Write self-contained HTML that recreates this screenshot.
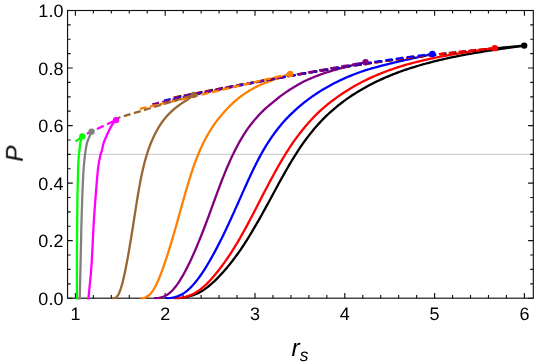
<!DOCTYPE html>
<html><head><meta charset="utf-8"><title>P vs r_s</title>
<style>
html,body{margin:0;padding:0;background:#fff;}
body{width:534px;height:364px;overflow:hidden;}
svg{display:block;}
text{font-family:"Liberation Sans",Arial,Helvetica,sans-serif;fill:#000;text-rendering:geometricPrecision;}
.tk{font-size:18px;}
.lb{font-size:24.5px;font-style:italic;}
.sub{font-size:17.5px;font-style:italic;}
</style></head>
<body>
<svg width="534" height="364" viewBox="0 0 534 364">
<rect x="0" y="0" width="534" height="364" fill="#ffffff"/>
<defs><clipPath id="cp"><rect x="67.55" y="10.50" width="465.75" height="289.10"/></clipPath></defs>
<line x1="67.55" y1="154.35" x2="533.30" y2="154.35" stroke="#c6c6c6" stroke-width="1"/>
<g stroke="#111111" stroke-width="1.15" fill="none">
<rect x="67.55" y="10.50" width="465.75" height="287.70"/>
<path d="M75.40 298.20V293.00M75.40 10.50V15.70M93.36 298.20V295.10M93.36 10.50V13.60M111.32 298.20V295.10M111.32 10.50V13.60M129.28 298.20V295.10M129.28 10.50V13.60M147.24 298.20V295.10M147.24 10.50V13.60M165.20 298.20V293.00M165.20 10.50V15.70M183.16 298.20V295.10M183.16 10.50V13.60M201.12 298.20V295.10M201.12 10.50V13.60M219.08 298.20V295.10M219.08 10.50V13.60M237.04 298.20V295.10M237.04 10.50V13.60M255.00 298.20V293.00M255.00 10.50V15.70M272.96 298.20V295.10M272.96 10.50V13.60M290.92 298.20V295.10M290.92 10.50V13.60M308.88 298.20V295.10M308.88 10.50V13.60M326.84 298.20V295.10M326.84 10.50V13.60M344.80 298.20V293.00M344.80 10.50V15.70M362.76 298.20V295.10M362.76 10.50V13.60M380.72 298.20V295.10M380.72 10.50V13.60M398.68 298.20V295.10M398.68 10.50V13.60M416.64 298.20V295.10M416.64 10.50V13.60M434.60 298.20V293.00M434.60 10.50V15.70M452.56 298.20V295.10M452.56 10.50V13.60M470.52 298.20V295.10M470.52 10.50V13.60M488.48 298.20V295.10M488.48 10.50V13.60M506.44 298.20V295.10M506.44 10.50V13.60M524.40 298.20V293.00M524.40 10.50V15.70M67.55 298.20H72.75M533.30 298.20H528.10M67.55 283.81H70.65M533.30 283.81H530.20M67.55 269.43H70.65M533.30 269.43H530.20M67.55 255.04H70.65M533.30 255.04H530.20M67.55 240.66H72.75M533.30 240.66H528.10M67.55 226.27H70.65M533.30 226.27H530.20M67.55 211.89H70.65M533.30 211.89H530.20M67.55 197.50H70.65M533.30 197.50H530.20M67.55 183.12H72.75M533.30 183.12H528.10M67.55 168.73H70.65M533.30 168.73H530.20M67.55 154.35H70.65M533.30 154.35H530.20M67.55 139.96H70.65M533.30 139.96H530.20M67.55 125.58H72.75M533.30 125.58H528.10M67.55 111.19H70.65M533.30 111.19H530.20M67.55 96.81H70.65M533.30 96.81H530.20M67.55 82.43H70.65M533.30 82.43H530.20M67.55 68.04H72.75M533.30 68.04H528.10M67.55 53.65H70.65M533.30 53.65H530.20M67.55 39.27H70.65M533.30 39.27H530.20M67.55 24.88H70.65M533.30 24.88H530.20M67.55 10.50H72.75M533.30 10.50H528.10"/>
</g>
<g clip-path="url(#cp)" fill="none" stroke-linecap="butt" stroke-linejoin="round">
<path d="M174.21 298.20 L175.71 298.20 L177.46 298.17 L179.21 298.08 L180.96 297.93 L182.71 297.71 L184.46 297.44 L186.22 297.10 L187.97 296.71 L189.72 296.25 L191.47 295.73 L193.22 295.15 L194.97 294.50 L196.72 293.80 L198.47 292.96 L200.22 292.02 L201.98 290.99 L203.73 289.87 L205.48 288.66 L207.23 287.36 L208.98 285.98 L210.73 284.50 L212.48 282.95 L214.23 281.31 L215.99 279.59 L217.74 277.83 L219.49 276.01 L221.24 274.14 L222.99 272.22 L224.74 270.24 L226.49 268.21 L228.24 266.12 L230.00 263.97 L231.75 261.77 L233.50 259.51 L235.25 257.18 L237.00 254.80 L238.75 252.35 L240.50 249.83 L242.25 247.25 L244.01 244.59 L245.76 241.87 L247.51 239.08 L249.26 236.24 L251.01 233.35 L252.76 230.42 L254.51 227.45 L256.26 224.44 L258.01 221.39 L259.77 218.31 L261.52 215.19 L263.27 212.04 L265.02 208.86 L266.77 205.66 L268.52 202.44 L270.27 199.21 L272.02 195.97 L273.78 192.73 L275.53 189.50 L277.28 186.28 L279.03 183.07 L280.78 179.88 L282.53 176.72 L284.28 173.59 L286.03 170.50 L287.79 167.45 L289.54 164.45 L291.29 161.50 L293.04 158.61 L294.79 155.78 L296.54 153.03 L298.29 150.34 L300.04 147.72 L301.80 145.17 L303.55 142.69 L305.30 140.27 L307.05 137.91 L308.80 135.61 L310.55 133.38 L312.30 131.21 L314.05 129.10 L315.81 127.05 L317.56 125.05 L319.31 123.12 L321.06 121.24 L322.81 119.41 L324.56 117.64 L326.31 115.92 L328.06 114.26 L329.81 112.64 L331.57 111.07 L333.32 109.54 L335.07 108.06 L336.82 106.60 L338.57 105.19 L340.32 103.81 L342.07 102.47 L343.82 101.16 L345.58 99.88 L347.33 98.63 L349.08 97.42 L350.83 96.23 L352.58 95.08 L354.33 93.95 L356.08 92.85 L357.83 91.76 L359.59 90.71 L361.34 89.67 L363.09 88.66 L364.84 87.67 L366.59 86.70 L368.34 85.75 L370.09 84.82 L371.84 83.91 L373.60 83.02 L375.35 82.15 L377.10 81.30 L378.85 80.47 L380.60 79.66 L382.35 78.86 L384.10 78.08 L385.85 77.32 L387.61 76.57 L389.36 75.84 L391.11 75.12 L392.86 74.42 L394.61 73.74 L396.36 73.07 L398.11 72.41 L399.86 71.77 L401.61 71.14 L403.37 70.52 L405.12 69.92 L406.87 69.32 L408.62 68.74 L410.37 68.17 L412.12 67.62 L413.87 67.07 L415.62 66.53 L417.38 66.00 L419.13 65.49 L420.88 64.98 L422.63 64.48 L424.38 63.99 L426.13 63.51 L427.88 63.03 L429.63 62.57 L431.39 62.12 L433.14 61.67 L434.89 61.23 L436.64 60.80 L438.39 60.37 L440.14 59.96 L441.89 59.55 L443.64 59.14 L445.40 58.75 L447.15 58.36 L448.90 57.98 L450.65 57.60 L452.40 57.23 L454.15 56.87 L455.90 56.51 L457.65 56.16 L459.40 55.81 L461.16 55.47 L462.91 55.14 L464.66 54.81 L466.41 54.48 L468.16 54.16 L469.91 53.85 L471.66 53.53 L473.41 53.23 L475.17 52.92 L476.92 52.63 L478.67 52.33 L480.42 52.04 L482.17 51.75 L483.92 51.47 L485.67 51.19 L487.42 50.91 L489.18 50.64 L490.93 50.36 L492.68 50.09 L494.43 49.83 L496.18 49.56 L497.93 49.30 L499.68 49.04 L501.43 48.78 L503.19 48.53 L504.94 48.27 L506.69 48.02 L508.44 47.77 L510.19 47.52 L511.94 47.27 L513.69 47.02 L515.44 46.77 L517.20 46.52 L518.95 46.27 L520.70 46.03 L522.45 45.78 L524.20 45.60" stroke="#000000" stroke-width="2.3"/>
<path d="M173.36 298.20 L174.86 298.20 L176.46 298.17 L178.07 298.07 L179.68 297.91 L181.29 297.68 L182.89 297.38 L184.50 297.02 L186.11 296.60 L187.72 296.11 L189.33 295.56 L190.93 294.93 L192.54 294.25 L194.15 293.48 L195.76 292.56 L197.36 291.55 L198.97 290.45 L200.58 289.26 L202.19 287.97 L203.80 286.59 L205.40 285.12 L207.01 283.57 L208.62 281.93 L210.23 280.21 L211.83 278.43 L213.44 276.59 L215.05 274.69 L216.66 272.74 L218.27 270.73 L219.87 268.66 L221.48 266.54 L223.09 264.36 L224.70 262.13 L226.30 259.85 L227.91 257.51 L229.52 255.11 L231.13 252.66 L232.74 250.16 L234.34 247.59 L235.95 244.97 L237.56 242.29 L239.17 239.55 L240.77 236.76 L242.38 233.91 L243.99 231.02 L245.60 228.09 L247.20 225.12 L248.81 222.11 L250.42 219.07 L252.03 216.00 L253.64 212.91 L255.24 209.79 L256.85 206.67 L258.46 203.53 L260.07 200.39 L261.67 197.27 L263.28 194.15 L264.89 191.05 L266.50 187.98 L268.11 184.92 L269.71 181.90 L271.32 178.90 L272.93 175.93 L274.54 173.00 L276.14 170.10 L277.75 167.25 L279.36 164.43 L280.97 161.66 L282.58 158.93 L284.18 156.25 L285.79 153.63 L287.40 151.06 L289.01 148.56 L290.61 146.12 L292.22 143.75 L293.83 141.43 L295.44 139.18 L297.05 136.98 L298.65 134.85 L300.26 132.77 L301.87 130.74 L303.48 128.76 L305.08 126.82 L306.69 124.92 L308.30 123.07 L309.91 121.27 L311.52 119.51 L313.12 117.80 L314.73 116.13 L316.34 114.51 L317.95 112.94 L319.55 111.41 L321.16 109.93 L322.77 108.50 L324.38 107.11 L325.99 105.77 L327.59 104.46 L329.20 103.18 L330.81 101.92 L332.42 100.69 L334.02 99.49 L335.63 98.31 L337.24 97.15 L338.85 96.01 L340.46 94.90 L342.06 93.81 L343.67 92.74 L345.28 91.69 L346.89 90.67 L348.49 89.66 L350.10 88.68 L351.71 87.72 L353.32 86.77 L354.92 85.85 L356.53 84.95 L358.14 84.06 L359.75 83.20 L361.36 82.35 L362.96 81.52 L364.57 80.71 L366.18 79.91 L367.79 79.14 L369.39 78.38 L371.00 77.63 L372.61 76.91 L374.22 76.19 L375.83 75.50 L377.43 74.82 L379.04 74.15 L380.65 73.50 L382.26 72.86 L383.86 72.23 L385.47 71.62 L387.08 71.02 L388.69 70.43 L390.30 69.86 L391.90 69.30 L393.51 68.74 L395.12 68.20 L396.73 67.68 L398.33 67.16 L399.94 66.65 L401.55 66.15 L403.16 65.66 L404.77 65.18 L406.37 64.71 L407.98 64.25 L409.59 63.80 L411.20 63.36 L412.80 62.93 L414.41 62.51 L416.02 62.09 L417.63 61.68 L419.24 61.28 L420.84 60.89 L422.45 60.51 L424.06 60.13 L425.67 59.76 L427.27 59.40 L428.88 59.04 L430.49 58.69 L432.10 58.35 L433.71 58.01 L435.31 57.68 L436.92 57.36 L438.53 57.04 L440.14 56.73 L441.74 56.42 L443.35 56.11 L444.96 55.82 L446.57 55.52 L448.17 55.23 L449.78 54.95 L451.39 54.67 L453.00 54.39 L454.61 54.12 L456.21 53.85 L457.82 53.58 L459.43 53.32 L461.04 53.06 L462.64 52.81 L464.25 52.56 L465.86 52.31 L467.47 52.06 L469.08 51.81 L470.68 51.57 L472.29 51.33 L473.90 51.09 L475.51 50.85 L477.11 50.62 L478.72 50.38 L480.33 50.15 L481.94 49.92 L483.55 49.69 L485.15 49.46 L486.76 49.23 L488.37 49.00 L489.98 48.77 L491.58 48.54 L493.19 48.31 L494.80 48.15" stroke="#ff0000" stroke-width="2.3"/>
<path d="M165.46 298.20 L166.96 298.20 L168.29 298.17 L169.63 298.08 L170.96 297.92 L172.30 297.70 L173.63 297.42 L174.96 297.08 L176.30 296.68 L177.63 296.21 L178.97 295.69 L180.30 295.10 L181.63 294.44 L182.97 293.72 L184.30 292.85 L185.64 291.89 L186.97 290.85 L188.30 289.72 L189.64 288.49 L190.97 287.18 L192.30 285.78 L193.64 284.30 L194.97 282.74 L196.31 281.10 L197.64 279.38 L198.97 277.60 L200.31 275.74 L201.64 273.81 L202.98 271.82 L204.31 269.77 L205.64 267.65 L206.98 265.48 L208.31 263.25 L209.64 260.98 L210.98 258.65 L212.31 256.27 L213.65 253.85 L214.98 251.38 L216.31 248.86 L217.65 246.31 L218.98 243.71 L220.32 241.07 L221.65 238.40 L222.98 235.69 L224.32 232.94 L225.65 230.16 L226.98 227.35 L228.32 224.51 L229.65 221.64 L230.99 218.74 L232.32 215.81 L233.65 212.86 L234.99 209.89 L236.32 206.90 L237.66 203.91 L238.99 200.90 L240.32 197.89 L241.66 194.88 L242.99 191.88 L244.33 188.90 L245.66 185.92 L246.99 182.97 L248.33 180.05 L249.66 177.16 L250.99 174.30 L252.33 171.48 L253.66 168.71 L255.00 165.98 L256.33 163.31 L257.66 160.70 L259.00 158.14 L260.33 155.66 L261.67 153.24 L263.00 150.89 L264.33 148.61 L265.67 146.39 L267.00 144.23 L268.33 142.13 L269.67 140.09 L271.00 138.10 L272.34 136.17 L273.67 134.30 L275.00 132.48 L276.34 130.70 L277.67 128.98 L279.01 127.30 L280.34 125.67 L281.67 124.09 L283.01 122.54 L284.34 121.04 L285.67 119.58 L287.01 118.15 L288.34 116.77 L289.68 115.41 L291.01 114.09 L292.34 112.80 L293.68 111.55 L295.01 110.32 L296.35 109.12 L297.68 107.94 L299.01 106.79 L300.35 105.66 L301.68 104.56 L303.02 103.47 L304.35 102.40 L305.68 101.36 L307.02 100.34 L308.35 99.33 L309.68 98.35 L311.02 97.38 L312.35 96.43 L313.69 95.50 L315.02 94.59 L316.35 93.70 L317.69 92.82 L319.02 91.96 L320.36 91.12 L321.69 90.29 L323.02 89.48 L324.36 88.68 L325.69 87.90 L327.02 87.14 L328.36 86.39 L329.69 85.65 L331.03 84.93 L332.36 84.22 L333.69 83.52 L335.03 82.84 L336.36 82.17 L337.70 81.52 L339.03 80.87 L340.36 80.24 L341.70 79.62 L343.03 79.01 L344.36 78.41 L345.70 77.82 L347.03 77.24 L348.37 76.67 L349.70 76.12 L351.03 75.57 L352.37 75.03 L353.70 74.50 L355.04 73.98 L356.37 73.47 L357.70 72.97 L359.04 72.47 L360.37 71.98 L361.71 71.51 L363.04 71.06 L364.37 70.62 L365.71 70.19 L367.04 69.78 L368.37 69.38 L369.71 68.99 L371.04 68.61 L372.38 68.23 L373.71 67.86 L375.04 67.50 L376.38 67.14 L377.71 66.78 L379.05 66.43 L380.38 66.07 L381.71 65.72 L383.05 65.37 L384.38 65.03 L385.71 64.69 L387.05 64.36 L388.38 64.04 L389.72 63.71 L391.05 63.39 L392.38 63.07 L393.72 62.75 L395.05 62.44 L396.39 62.12 L397.72 61.80 L399.05 61.49 L400.39 61.18 L401.72 60.87 L403.05 60.56 L404.39 60.25 L405.72 59.95 L407.06 59.65 L408.39 59.35 L409.72 59.05 L411.06 58.76 L412.39 58.47 L413.73 58.17 L415.06 57.88 L416.39 57.58 L417.73 57.29 L419.06 56.99 L420.40 56.70 L421.73 56.40 L423.06 56.11 L424.40 55.81 L425.73 55.51 L427.06 55.21 L428.40 54.89 L429.73 54.58 L431.07 54.26 L432.40 54.00" stroke="#0000ff" stroke-width="2.3"/>
<path d="M154.16 298.20 L155.66 298.20 L156.71 298.17 L157.77 298.08 L158.82 297.94 L159.88 297.73 L160.93 297.47 L161.99 297.14 L163.04 296.76 L164.10 296.32 L165.15 295.82 L166.21 295.27 L167.26 294.65 L168.32 293.97 L169.37 293.15 L170.43 292.25 L171.48 291.26 L172.54 290.19 L173.59 289.04 L174.65 287.80 L175.70 286.48 L176.76 285.07 L177.81 283.60 L178.87 282.04 L179.92 280.42 L180.98 278.72 L182.03 276.96 L183.09 275.13 L184.14 273.24 L185.20 271.28 L186.25 269.27 L187.31 267.21 L188.36 265.09 L189.42 262.92 L190.47 260.70 L191.53 258.43 L192.58 256.12 L193.64 253.76 L194.69 251.36 L195.75 248.92 L196.80 246.44 L197.86 243.91 L198.91 241.35 L199.97 238.76 L201.02 236.13 L202.08 233.46 L203.13 230.77 L204.19 228.04 L205.24 225.28 L206.30 222.50 L207.35 219.68 L208.41 216.85 L209.46 213.99 L210.52 211.11 L211.57 208.21 L212.63 205.31 L213.68 202.40 L214.74 199.49 L215.79 196.59 L216.85 193.71 L217.90 190.86 L218.96 188.04 L220.01 185.25 L221.07 182.49 L222.12 179.77 L223.18 177.09 L224.23 174.45 L225.29 171.85 L226.34 169.31 L227.40 166.81 L228.45 164.36 L229.51 161.97 L230.56 159.64 L231.62 157.35 L232.67 155.12 L233.73 152.93 L234.78 150.80 L235.84 148.72 L236.89 146.70 L237.95 144.73 L239.00 142.80 L240.06 140.93 L241.11 139.11 L242.17 137.34 L243.22 135.61 L244.28 133.94 L245.33 132.31 L246.39 130.73 L247.44 129.19 L248.50 127.70 L249.55 126.26 L250.61 124.85 L251.66 123.49 L252.72 122.17 L253.77 120.88 L254.83 119.62 L255.88 118.40 L256.94 117.20 L257.99 116.04 L259.05 114.90 L260.10 113.79 L261.16 112.70 L262.21 111.64 L263.27 110.60 L264.32 109.58 L265.38 108.60 L266.43 107.66 L267.49 106.75 L268.54 105.87 L269.60 105.00 L270.65 104.14 L271.71 103.27 L272.76 102.40 L273.82 101.52 L274.87 100.65 L275.93 99.79 L276.98 98.94 L278.04 98.10 L279.09 97.28 L280.15 96.46 L281.20 95.66 L282.26 94.88 L283.31 94.11 L284.37 93.36 L285.42 92.63 L286.48 91.90 L287.53 91.19 L288.59 90.50 L289.64 89.81 L290.70 89.13 L291.75 88.47 L292.81 87.82 L293.86 87.18 L294.92 86.55 L295.97 85.93 L297.03 85.31 L298.08 84.69 L299.14 84.09 L300.19 83.49 L301.25 82.90 L302.30 82.33 L303.36 81.77 L304.41 81.23 L305.47 80.72 L306.52 80.22 L307.58 79.75 L308.63 79.29 L309.69 78.83 L310.74 78.38 L311.80 77.94 L312.85 77.50 L313.91 77.07 L314.96 76.65 L316.02 76.24 L317.07 75.84 L318.13 75.44 L319.18 75.05 L320.24 74.66 L321.29 74.28 L322.35 73.91 L323.40 73.54 L324.46 73.18 L325.51 72.83 L326.57 72.48 L327.62 72.14 L328.68 71.80 L329.73 71.47 L330.79 71.14 L331.84 70.82 L332.90 70.50 L333.95 70.19 L335.01 69.88 L336.06 69.58 L337.12 69.28 L338.17 68.98 L339.23 68.69 L340.28 68.40 L341.34 68.12 L342.39 67.84 L343.45 67.56 L344.50 67.29 L345.56 67.02 L346.61 66.75 L347.67 66.49 L348.72 66.22 L349.78 65.96 L350.83 65.71 L351.89 65.45 L352.94 65.20 L354.00 64.94 L355.05 64.69 L356.11 64.44 L357.16 64.20 L358.22 63.95 L359.27 63.70 L360.33 63.46 L361.38 63.21 L362.44 62.97 L363.49 62.72 L364.55 62.48 L365.60 62.30" stroke="#800080" stroke-width="2.3"/>
<path d="M140.50 298.20 L142.00 298.20 L142.74 298.17 L143.49 298.07 L144.23 297.90 L144.98 297.67 L145.72 297.37 L146.47 297.00 L147.21 296.57 L147.96 296.07 L148.70 295.51 L149.45 294.88 L150.19 294.18 L150.94 293.34 L151.68 292.40 L152.43 291.37 L153.17 290.24 L153.91 289.03 L154.66 287.73 L155.40 286.34 L156.15 284.87 L156.89 283.33 L157.64 281.70 L158.38 280.01 L159.13 278.25 L159.87 276.42 L160.62 274.54 L161.36 272.59 L162.11 270.59 L162.85 268.54 L163.60 266.44 L164.34 264.30 L165.09 262.11 L165.83 259.89 L166.58 257.62 L167.32 255.32 L168.06 252.98 L168.81 250.61 L169.55 248.21 L170.30 245.78 L171.04 243.32 L171.79 240.83 L172.53 238.32 L173.28 235.79 L174.02 233.23 L174.77 230.66 L175.51 228.06 L176.26 225.45 L177.00 222.82 L177.75 220.17 L178.49 217.52 L179.24 214.85 L179.98 212.18 L180.72 209.50 L181.47 206.83 L182.21 204.16 L182.96 201.51 L183.70 198.86 L184.45 196.24 L185.19 193.63 L185.94 191.04 L186.68 188.49 L187.43 185.96 L188.17 183.46 L188.92 181.01 L189.66 178.59 L190.41 176.21 L191.15 173.88 L191.90 171.60 L192.64 169.37 L193.39 167.20 L194.13 165.09 L194.87 163.03 L195.62 161.02 L196.36 159.06 L197.11 157.16 L197.85 155.30 L198.60 153.49 L199.34 151.73 L200.09 150.01 L200.83 148.33 L201.58 146.70 L202.32 145.12 L203.07 143.57 L203.81 142.06 L204.56 140.59 L205.30 139.16 L206.05 137.76 L206.79 136.40 L207.54 135.07 L208.28 133.78 L209.02 132.51 L209.77 131.27 L210.51 130.07 L211.26 128.89 L212.00 127.73 L212.75 126.60 L213.49 125.50 L214.24 124.41 L214.98 123.35 L215.73 122.32 L216.47 121.32 L217.22 120.35 L217.96 119.40 L218.71 118.46 L219.45 117.55 L220.20 116.66 L220.94 115.77 L221.68 114.90 L222.43 114.03 L223.17 113.18 L223.92 112.32 L224.66 111.47 L225.41 110.63 L226.15 109.81 L226.90 109.00 L227.64 108.21 L228.39 107.43 L229.13 106.66 L229.88 105.91 L230.62 105.18 L231.37 104.45 L232.11 103.74 L232.86 103.05 L233.60 102.36 L234.35 101.70 L235.09 101.04 L235.83 100.40 L236.58 99.77 L237.32 99.16 L238.07 98.56 L238.81 97.97 L239.56 97.39 L240.30 96.82 L241.05 96.27 L241.79 95.73 L242.54 95.19 L243.28 94.67 L244.03 94.15 L244.77 93.65 L245.52 93.15 L246.26 92.66 L247.01 92.18 L247.75 91.70 L248.50 91.24 L249.24 90.78 L249.98 90.32 L250.73 89.88 L251.47 89.44 L252.22 89.01 L252.96 88.59 L253.71 88.18 L254.45 87.77 L255.20 87.38 L255.94 86.99 L256.69 86.61 L257.43 86.24 L258.18 85.88 L258.92 85.53 L259.67 85.19 L260.41 84.85 L261.16 84.53 L261.90 84.21 L262.65 83.90 L263.39 83.60 L264.13 83.30 L264.88 83.01 L265.62 82.72 L266.37 82.44 L267.11 82.16 L267.86 81.88 L268.60 81.61 L269.35 81.34 L270.09 81.07 L270.84 80.80 L271.58 80.54 L272.33 80.27 L273.07 80.01 L273.82 79.74 L274.56 79.48 L275.31 79.22 L276.05 78.96 L276.79 78.70 L277.54 78.45 L278.28 78.19 L279.03 77.94 L279.77 77.68 L280.52 77.43 L281.26 77.18 L282.01 76.93 L282.75 76.66 L283.50 76.40 L284.24 76.13 L284.99 75.85 L285.73 75.57 L286.48 75.29 L287.22 75.00 L287.97 74.72 L288.71 74.43 L289.46 74.13 L290.20 73.90" stroke="#ff8000" stroke-width="2.3"/>
<path d="M112.42 298.20 L113.92 298.20 L114.32 298.17 L114.72 298.08 L115.13 297.93 L115.53 297.72 L115.93 297.45 L116.33 297.13 L116.73 296.74 L117.13 296.29 L117.53 295.79 L117.94 295.22 L118.34 294.60 L118.74 293.84 L119.14 292.99 L119.54 292.06 L119.94 291.04 L120.34 289.94 L120.75 288.76 L121.15 287.50 L121.55 286.15 L121.95 284.74 L122.35 283.25 L122.75 281.69 L123.15 280.07 L123.56 278.38 L123.96 276.64 L124.36 274.83 L124.76 272.97 L125.16 271.06 L125.56 269.09 L125.96 267.08 L126.36 265.03 L126.77 262.93 L127.17 260.79 L127.57 258.62 L127.97 256.40 L128.37 254.15 L128.77 251.86 L129.17 249.54 L129.58 247.19 L129.98 244.81 L130.38 242.40 L130.78 239.97 L131.18 237.51 L131.58 235.02 L131.98 232.52 L132.39 230.00 L132.79 227.45 L133.19 224.89 L133.59 222.32 L133.99 219.75 L134.39 217.17 L134.79 214.59 L135.20 212.02 L135.60 209.46 L136.00 206.92 L136.40 204.39 L136.80 201.89 L137.20 199.42 L137.60 196.97 L138.01 194.56 L138.41 192.20 L138.81 189.87 L139.21 187.59 L139.61 185.36 L140.01 183.19 L140.41 181.07 L140.82 179.02 L141.22 177.02 L141.62 175.08 L142.02 173.21 L142.42 171.38 L142.82 169.61 L143.22 167.89 L143.63 166.23 L144.03 164.61 L144.43 163.04 L144.83 161.52 L145.23 160.04 L145.63 158.60 L146.03 157.21 L146.43 155.86 L146.84 154.54 L147.24 153.26 L147.64 152.02 L148.04 150.81 L148.44 149.64 L148.84 148.50 L149.24 147.38 L149.65 146.30 L150.05 145.25 L150.45 144.22 L150.85 143.21 L151.25 142.23 L151.65 141.28 L152.05 140.34 L152.46 139.43 L152.86 138.53 L153.26 137.65 L153.66 136.79 L154.06 135.95 L154.46 135.12 L154.86 134.31 L155.27 133.51 L155.67 132.73 L156.07 131.97 L156.47 131.21 L156.87 130.48 L157.27 129.75 L157.67 129.04 L158.08 128.35 L158.48 127.66 L158.88 126.99 L159.28 126.33 L159.68 125.69 L160.08 125.05 L160.48 124.43 L160.89 123.82 L161.29 123.23 L161.69 122.65 L162.09 122.08 L162.49 121.52 L162.89 120.98 L163.29 120.44 L163.70 119.92 L164.10 119.41 L164.50 118.91 L164.90 118.41 L165.30 117.93 L165.70 117.45 L166.10 116.98 L166.50 116.52 L166.91 116.07 L167.31 115.62 L167.71 115.18 L168.11 114.75 L168.51 114.33 L168.91 113.92 L169.31 113.51 L169.72 113.12 L170.12 112.72 L170.52 112.34 L170.92 111.96 L171.32 111.58 L171.72 111.21 L172.12 110.85 L172.53 110.49 L172.93 110.13 L173.33 109.78 L173.73 109.44 L174.13 109.09 L174.53 108.75 L174.93 108.41 L175.34 108.08 L175.74 107.76 L176.14 107.43 L176.54 107.12 L176.94 106.80 L177.34 106.49 L177.74 106.19 L178.15 105.88 L178.55 105.59 L178.95 105.29 L179.35 105.00 L179.75 104.71 L180.15 104.43 L180.55 104.15 L180.96 103.88 L181.36 103.61 L181.76 103.34 L182.16 103.08 L182.56 102.82 L182.96 102.56 L183.36 102.30 L183.77 102.05 L184.17 101.79 L184.57 101.54 L184.97 101.29 L185.37 101.03 L185.77 100.77 L186.17 100.51 L186.57 100.24 L186.98 99.97 L187.38 99.69 L187.78 99.41 L188.18 99.13 L188.58 98.85 L188.98 98.57 L189.38 98.28 L189.79 98.00 L190.19 97.72 L190.59 97.42 L190.99 97.12 L191.39 96.81 L191.79 96.49 L192.19 96.16 L192.60 95.83 L193.00 95.49 L193.40 95.14 L193.80 94.85" stroke="#996633" stroke-width="2.3"/>
<path d="M88.30 300.00 L88.45 298.49 L88.60 296.98 L88.75 295.46 L88.89 293.95 L89.04 292.44 L89.18 290.93 L89.33 289.42 L89.47 287.91 L89.62 286.39 L89.76 284.88 L89.91 283.37 L90.06 281.86 L90.22 280.35 L90.37 278.84 L90.52 277.32 L90.67 275.81 L90.81 274.30 L90.93 272.79 L91.05 271.28 L91.17 269.76 L91.28 268.25 L91.39 266.74 L91.49 265.23 L91.59 263.72 L91.69 262.21 L91.78 260.69 L91.87 259.18 L91.96 257.67 L92.04 256.16 L92.12 254.65 L92.20 253.14 L92.28 251.62 L92.36 250.11 L92.43 248.60 L92.51 247.09 L92.58 245.58 L92.65 244.06 L92.73 242.55 L92.80 241.04 L92.87 239.53 L92.94 238.02 L93.02 236.51 L93.09 234.99 L93.17 233.48 L93.24 231.97 L93.32 230.46 L93.40 228.95 L93.48 227.44 L93.57 225.92 L93.65 224.41 L93.74 222.90 L93.84 221.39 L93.93 219.88 L94.03 218.36 L94.13 216.85 L94.23 215.34 L94.33 213.83 L94.44 212.32 L94.54 210.81 L94.65 209.29 L94.76 207.78 L94.87 206.27 L94.98 204.76 L95.09 203.25 L95.21 201.74 L95.32 200.22 L95.44 198.71 L95.56 197.20 L95.68 195.69 L95.80 194.18 L95.92 192.66 L96.04 191.15 L96.17 189.64 L96.29 188.13 L96.41 186.62 L96.54 185.11 L96.67 183.59 L96.79 182.08 L96.92 180.57 L97.04 179.06 L97.17 177.55 L97.29 176.04 L97.43 174.52 L97.57 173.01 L97.72 171.50 L97.88 169.99 L98.06 168.48 L98.26 166.96 L98.47 165.45 L98.71 163.94 L98.95 162.43 L99.22 160.92 L99.51 159.41 L99.82 157.89 L100.14 156.38 L100.49 154.87 L100.89 153.36 L101.41 151.85 L101.91 150.34 L102.29 148.82 L102.61 147.31 L102.92 145.80 L103.25 144.29 L103.67 142.78 L104.22 141.26 L104.87 139.75 L105.54 138.24 L106.19 136.73 L106.85 135.22 L107.54 133.71 L108.24 132.19 L108.96 130.68 L109.70 129.17 L110.48 127.66 L111.33 126.15 L112.23 124.64 L113.25 123.12 L114.48 121.61 L116.00 120.10" stroke="#ff00ff" stroke-width="2.3"/>
<path d="M79.70 300.00 L79.73 298.58 L79.77 297.17 L79.80 295.75 L79.84 294.34 L79.87 292.92 L79.90 291.51 L79.94 290.09 L79.97 288.68 L80.01 287.26 L80.04 285.85 L80.07 284.43 L80.11 283.02 L80.14 281.60 L80.17 280.19 L80.21 278.77 L80.24 277.36 L80.28 275.94 L80.31 274.53 L80.34 273.11 L80.37 271.70 L80.41 270.28 L80.44 268.87 L80.47 267.45 L80.51 266.04 L80.54 264.62 L80.57 263.21 L80.60 261.79 L80.64 260.38 L80.67 258.96 L80.70 257.55 L80.73 256.13 L80.76 254.72 L80.79 253.30 L80.82 251.89 L80.85 250.47 L80.88 249.06 L80.91 247.64 L80.94 246.23 L80.97 244.81 L81.00 243.39 L81.03 241.98 L81.06 240.56 L81.09 239.15 L81.12 237.73 L81.15 236.32 L81.18 234.90 L81.21 233.49 L81.25 232.07 L81.28 230.66 L81.31 229.24 L81.35 227.83 L81.38 226.41 L81.42 225.00 L81.46 223.58 L81.50 222.17 L81.53 220.75 L81.57 219.34 L81.61 217.92 L81.66 216.51 L81.70 215.09 L81.74 213.68 L81.78 212.26 L81.83 210.85 L81.87 209.43 L81.92 208.02 L81.96 206.60 L82.01 205.19 L82.06 203.77 L82.10 202.36 L82.15 200.94 L82.20 199.53 L82.25 198.11 L82.31 196.70 L82.36 195.28 L82.41 193.87 L82.47 192.45 L82.52 191.04 L82.58 189.62 L82.64 188.21 L82.70 186.79 L82.75 185.37 L82.81 183.96 L82.88 182.54 L82.94 181.13 L83.00 179.71 L83.07 178.30 L83.14 176.88 L83.21 175.47 L83.29 174.05 L83.37 172.64 L83.45 171.22 L83.54 169.81 L83.64 168.39 L83.75 166.98 L83.88 165.56 L84.01 164.15 L84.15 162.73 L84.30 161.32 L84.46 159.90 L84.62 158.49 L84.78 157.07 L84.95 155.66 L85.12 154.24 L85.30 152.83 L85.49 151.41 L85.70 150.00 L85.92 148.58 L86.15 147.17 L86.40 145.75 L86.69 144.34 L87.02 142.92 L87.46 141.51 L87.99 140.09 L88.57 138.68 L89.14 137.26 L89.72 135.85 L90.32 134.43 L90.95 133.02 L91.60 131.60" stroke="#808080" stroke-width="2.3"/>
<path d="M76.90 300.00 L76.90 298.63 L76.90 297.25 L76.90 295.88 L76.90 294.50 L76.90 293.13 L76.90 291.75 L76.90 290.38 L76.90 289.00 L76.90 287.63 L76.90 286.25 L76.90 284.88 L76.90 283.50 L76.90 282.13 L76.90 280.75 L76.90 279.38 L76.90 278.00 L76.90 276.63 L76.90 275.25 L76.90 273.88 L76.90 272.50 L76.90 271.13 L76.90 269.75 L76.90 268.38 L76.90 267.01 L76.90 265.63 L76.90 264.26 L76.90 262.88 L76.90 261.51 L76.90 260.13 L76.90 258.76 L76.91 257.38 L76.91 256.01 L76.92 254.63 L76.92 253.26 L76.93 251.88 L76.93 250.51 L76.94 249.13 L76.95 247.76 L76.96 246.38 L76.97 245.01 L76.98 243.63 L76.99 242.26 L76.99 240.88 L77.00 239.51 L77.01 238.13 L77.03 236.76 L77.04 235.38 L77.06 234.01 L77.07 232.64 L77.09 231.26 L77.11 229.89 L77.12 228.51 L77.14 227.14 L77.16 225.76 L77.17 224.39 L77.19 223.01 L77.20 221.64 L77.22 220.26 L77.23 218.89 L77.24 217.51 L77.25 216.14 L77.26 214.76 L77.27 213.39 L77.28 212.01 L77.29 210.64 L77.31 209.26 L77.32 207.89 L77.33 206.51 L77.34 205.14 L77.36 203.76 L77.37 202.39 L77.39 201.02 L77.40 199.64 L77.43 198.27 L77.45 196.89 L77.48 195.52 L77.51 194.14 L77.54 192.77 L77.57 191.39 L77.60 190.02 L77.64 188.64 L77.67 187.27 L77.71 185.89 L77.74 184.52 L77.77 183.14 L77.81 181.77 L77.83 180.39 L77.86 179.02 L77.89 177.64 L77.92 176.27 L77.95 174.89 L77.98 173.52 L78.01 172.14 L78.05 170.77 L78.09 169.39 L78.13 168.02 L78.18 166.65 L78.24 165.27 L78.30 163.90 L78.36 162.52 L78.43 161.15 L78.51 159.77 L78.60 158.40 L78.69 157.02 L78.80 155.65 L78.91 154.27 L79.08 152.90 L79.29 151.52 L79.48 150.15 L79.63 148.77 L79.75 147.40 L79.86 146.02 L79.99 144.65 L80.16 143.27 L80.41 141.90 L80.77 140.52 L81.22 139.15 L81.73 137.77 L82.30 136.40" stroke="#00ff00" stroke-width="2.3"/>
<path d="M175.00 97.40 L176.46 97.11 L177.92 96.82 L179.38 96.53 L180.84 96.24 L181.37 96.14 M184.70 95.48 L185.23 95.37 L186.69 95.09 L188.15 94.80 L189.61 94.51 L191.07 94.22 L191.94 94.05 M195.50 93.35 L196.92 93.08 L198.38 92.79 L199.84 92.51 L201.30 92.22 L202.47 92.00 M205.90 91.33 L207.14 91.09 L208.61 90.81 L210.07 90.53 L211.53 90.25 L212.87 89.99 M216.30 89.33 L217.37 89.13 L218.83 88.85 L220.29 88.57 L221.75 88.29 L223.20 88.02 M226.60 87.37 L227.60 87.18 L229.06 86.91 L230.52 86.63 L231.98 86.36 L233.44 86.08 L233.57 86.06 M237.00 85.42 L237.83 85.27 L239.29 84.99 L240.75 84.72 L242.21 84.45 L243.67 84.18 L243.97 84.13 M247.40 83.49 L248.05 83.37 L249.52 83.11 L250.98 82.84 L252.44 82.57 L253.90 82.30 L254.37 82.22 M257.80 81.59 L258.28 81.51 L259.74 81.24 L261.20 80.98 L262.67 80.72 L264.13 80.45 L264.70 80.35 M268.10 79.74 L268.51 79.67 L269.97 79.41 L271.43 79.15 L272.89 78.89 L274.35 78.63 L275.20 78.48 M278.70 77.87 L278.74 77.86 L280.20 77.61 L281.66 77.35 L283.12 77.10 L284.58 76.84 L285.80 76.63 M289.30 76.03 L290.43 75.83 L291.89 75.58 L293.35 75.33 L294.81 75.08 L295.73 74.92 M298.90 74.39 L299.19 74.34 L300.65 74.09 L302.11 73.84 L303.58 73.60 L305.04 73.35 L306.34 73.14 M310.00 72.53 L310.88 72.38 L312.34 72.14 L313.80 71.90 L315.26 71.66 L316.73 71.42 L317.44 71.30 M321.10 70.71 L321.11 70.71 L322.57 70.47 L324.03 70.24 L325.49 70.00 L326.95 69.77 L328.41 69.53 L328.54 69.51 M332.20 68.93 L332.80 68.84 L334.26 68.61 L335.72 68.38 L337.18 68.15 L338.64 67.92 L339.64 67.77 M343.30 67.20 L344.49 67.02 L345.95 66.79 L347.41 66.57 L348.87 66.35 L350.33 66.13 L350.74 66.06 M354.40 65.51 L354.71 65.47 L356.17 65.25 L357.64 65.03 L359.10 64.81 L360.56 64.60 L361.84 64.41 M365.50 63.87 L366.40 63.74 L367.86 63.53 L369.32 63.32 L370.79 63.11 L371.93 62.94 M375.10 62.49 L375.17 62.48 L376.63 62.28 L378.09 62.07 L379.55 61.87 L381.01 61.66 L382.47 61.46 L382.54 61.45 M386.20 60.94 L386.86 60.85 L388.32 60.65 L389.78 60.46 L391.24 60.26 L392.70 60.06 L393.17 60.00 M396.60 59.54 L397.09 59.48 L398.55 59.28 L400.01 59.09 L401.47 58.90 L402.93 58.71 L403.77 58.60 M407.30 58.14 L407.31 58.14 L408.77 57.95 L410.24 57.77 L411.70 57.58 L413.16 57.40 L414.62 57.22 L414.74 57.20 M418.40 56.75 L419.00 56.67 L420.46 56.49 L421.92 56.31 L423.38 56.14 L424.85 55.96 L425.44 55.89 M428.90 55.47 L429.23 55.43 L430.69 55.26 L432.15 55.09 L433.61 54.92 L435.07 54.74 L436.34 54.60 M440.00 54.17 L440.92 54.07 L442.38 53.90 L443.84 53.74 L445.30 53.57 L446.57 53.43 M449.80 53.06 L451.15 52.91 L452.61 52.75 L454.07 52.59 L455.53 52.43 L456.37 52.34 M459.60 51.99 L459.91 51.95 L461.37 51.80 L462.83 51.64 L464.30 51.48 L465.76 51.33 L466.23 51.28 M469.50 50.93 L470.14 50.87 L471.60 50.71 L473.06 50.56 L474.52 50.41 L475.98 50.26 L476.07 50.25 M479.30 49.92 L480.37 49.81 L481.83 49.66 L483.29 49.52 L484.75 49.37 L485.87 49.26 M489.10 48.93 L489.13 48.93 L490.59 48.79 L492.06 48.64 L493.52 48.50 L494.98 48.35 L495.67 48.29 M498.90 47.97 L499.36 47.93 L500.82 47.79 L502.28 47.65 L503.74 47.51 L505.21 47.37 L505.53 47.34 M508.80 47.03 L509.59 46.95 L511.05 46.82 L512.51 46.68 L513.97 46.54 L515.37 46.41 M518.60 46.11 L519.82 46.00 L521.28 45.87 L522.74 45.73 L524.20 45.60 M494.98 48.35 L496.44 48.21 L497.90 48.07 L499.36 47.93 L500.82 47.79 L502.28 47.65 L503.74 47.51 L505.21 47.37 L506.67 47.23 L508.13 47.09 L509.59 46.95 L511.05 46.82 L512.51 46.68 L513.97 46.54 L515.43 46.41 L516.89 46.27 L518.36 46.14 L519.82 46.00 L521.28 45.87 L522.74 45.73 L524.20 45.60" stroke="#000000" stroke-width="2.3"/>
<path d="M173.50 97.60 L174.84 97.35 L176.19 97.09 L177.53 96.84 L178.88 96.58 L180.22 96.33 L180.27 96.32 M183.60 95.68 L184.25 95.56 L185.60 95.30 L186.94 95.05 L188.29 94.79 L189.63 94.54 L190.84 94.31 M194.40 93.63 L195.01 93.52 L196.35 93.26 L197.70 93.01 L199.04 92.75 L200.39 92.50 L201.37 92.31 M204.80 91.66 L205.76 91.48 L207.11 91.22 L208.45 90.97 L209.80 90.71 L211.14 90.46 L211.77 90.34 M215.20 89.69 L216.52 89.44 L217.86 89.19 L219.21 88.93 L220.55 88.68 L221.90 88.43 L222.10 88.39 M225.50 87.75 L225.93 87.67 L227.27 87.41 L228.62 87.16 L229.96 86.91 L231.31 86.66 L232.47 86.44 M235.90 85.80 L236.68 85.65 L238.03 85.40 L239.37 85.15 L240.72 84.90 L242.06 84.65 L242.87 84.50 M246.30 83.86 L247.44 83.65 L248.78 83.40 L250.13 83.15 L251.47 82.91 L252.82 82.66 L253.27 82.58 M256.70 81.94 L256.85 81.92 L258.19 81.67 L259.54 81.42 L260.88 81.18 L262.23 80.93 L263.57 80.69 L263.60 80.68 M267.00 80.07 L267.60 79.96 L268.95 79.71 L270.29 79.47 L271.64 79.23 L272.98 78.98 L274.10 78.78 M277.60 78.16 L278.36 78.02 L279.70 77.78 L281.05 77.54 L282.39 77.30 L283.74 77.06 L284.70 76.89 M288.20 76.27 L289.11 76.11 L290.46 75.88 L291.80 75.64 L293.15 75.41 L294.49 75.17 L294.63 75.15 M297.80 74.60 L298.52 74.47 L299.87 74.24 L301.21 74.01 L302.56 73.77 L303.90 73.54 L305.24 73.31 M308.90 72.69 L309.28 72.63 L310.62 72.40 L311.97 72.17 L313.31 71.94 L314.66 71.72 L316.00 71.49 L316.34 71.44 M320.00 70.83 L320.03 70.82 L321.38 70.60 L322.72 70.38 L324.07 70.16 L325.41 69.94 L326.76 69.72 L327.44 69.60 M331.10 69.01 L332.13 68.84 L333.48 68.63 L334.82 68.41 L336.17 68.20 L337.51 67.98 L338.54 67.82 M342.20 67.24 L342.89 67.13 L344.23 66.92 L345.58 66.71 L346.92 66.50 L348.27 66.30 L349.61 66.09 L349.64 66.08 M353.30 65.52 L353.64 65.47 L354.99 65.27 L356.33 65.06 L357.68 64.86 L359.02 64.66 L360.36 64.46 L360.74 64.41 M364.40 63.86 L365.74 63.67 L367.09 63.47 L368.43 63.28 L369.78 63.08 L370.83 62.93 M374.00 62.48 L375.15 62.31 L376.50 62.12 L377.84 61.93 L379.19 61.75 L380.53 61.56 L381.44 61.43 M385.10 60.93 L385.91 60.82 L387.25 60.63 L388.60 60.45 L389.94 60.27 L391.28 60.09 L392.07 59.98 M395.50 59.53 L396.66 59.37 L398.01 59.19 L399.35 59.02 L400.70 58.84 L402.04 58.67 L402.67 58.59 M406.20 58.13 L407.42 57.98 L408.76 57.81 L410.11 57.64 L411.45 57.47 L412.79 57.30 L413.64 57.19 M417.30 56.74 L418.17 56.63 L419.52 56.46 L420.86 56.30 L422.21 56.13 L423.55 55.97 L424.34 55.88 M427.80 55.46 L428.93 55.33 L430.27 55.17 L431.62 55.01 L432.96 54.85 L434.30 54.69 L435.24 54.58 M438.90 54.15 L439.68 54.06 L441.03 53.91 L442.37 53.75 L443.71 53.60 L445.06 53.45 L445.47 53.40 M448.70 53.04 L449.09 52.99 L450.44 52.84 L451.78 52.69 L453.13 52.54 L454.47 52.39 L455.27 52.30 M458.50 51.95 L458.50 51.95 L459.85 51.80 L461.19 51.65 L462.54 51.51 L463.88 51.36 L465.13 51.23 M468.40 50.88 L469.26 50.79 L470.60 50.64 L471.95 50.50 L473.29 50.36 L474.63 50.22 L474.97 50.18 M478.20 49.85 L478.67 49.80 L480.01 49.66 L481.36 49.52 L482.70 49.38 L484.05 49.24 L484.77 49.17 M488.00 48.84 L488.08 48.83 L489.42 48.69 L490.77 48.56 L492.11 48.42 L493.46 48.29 L494.57 48.18" stroke="#ff0000" stroke-width="2.3"/>
<path d="M164.10 100.50 L165.22 100.27 L166.35 100.04 L167.47 99.81 L168.59 99.58 L169.71 99.34 L170.67 99.15 M174.00 98.46 L174.20 98.42 L175.33 98.19 L176.45 97.96 L177.57 97.73 L178.69 97.50 L179.82 97.27 L180.77 97.08 M184.10 96.40 L184.31 96.36 L185.43 96.13 L186.55 95.90 L187.67 95.67 L188.80 95.45 L189.92 95.22 L191.04 94.99 L191.34 94.93 M194.90 94.21 L195.53 94.08 L196.66 93.86 L197.78 93.63 L198.90 93.41 L200.02 93.18 L201.15 92.95 L201.87 92.81 M205.30 92.12 L205.64 92.06 L206.76 91.83 L207.88 91.61 L209.00 91.38 L210.13 91.16 L211.25 90.94 L212.27 90.73 M215.70 90.05 L215.74 90.04 L216.86 89.82 L217.98 89.60 L219.11 89.38 L220.23 89.16 L221.35 88.94 L222.47 88.71 L222.60 88.69 M226.00 88.02 L226.97 87.83 L228.09 87.61 L229.21 87.39 L230.33 87.17 L231.46 86.96 L232.58 86.74 L232.97 86.66 M236.40 86.00 L237.07 85.87 L238.19 85.65 L239.31 85.43 L240.44 85.21 L241.56 85.00 L242.68 84.78 L243.37 84.65 M246.80 83.99 L247.17 83.92 L248.29 83.71 L249.42 83.49 L250.54 83.28 L251.66 83.06 L252.78 82.85 L253.77 82.66 M257.20 82.01 L257.28 82.00 L258.40 81.79 L259.52 81.58 L260.64 81.37 L261.77 81.15 L262.89 80.94 L264.01 80.73 L264.10 80.72 M267.50 80.08 L268.50 79.90 L269.62 79.69 L270.75 79.48 L271.87 79.27 L272.99 79.06 L274.11 78.86 L274.60 78.77 M278.10 78.12 L278.60 78.03 L279.73 77.83 L280.85 77.62 L281.97 77.42 L283.09 77.21 L284.22 77.01 L285.20 76.83 M288.70 76.20 L288.71 76.20 L289.83 75.99 L290.95 75.79 L292.08 75.59 L293.20 75.39 L294.32 75.19 L295.13 75.04 M298.30 74.48 L298.81 74.39 L299.93 74.19 L301.06 73.99 L302.18 73.79 L303.30 73.60 L304.42 73.40 L305.55 73.20 L305.74 73.17 M309.40 72.53 L310.04 72.42 L311.16 72.22 L312.28 72.03 L313.41 71.84 L314.53 71.64 L315.65 71.45 L316.77 71.26 L316.84 71.25 M320.50 70.62 L321.26 70.49 L322.39 70.30 L323.51 70.11 L324.63 69.92 L325.75 69.73 L326.88 69.54 L327.94 69.36 M331.60 68.75 L332.49 68.60 L333.61 68.42 L334.73 68.23 L335.86 68.05 L336.98 67.86 L338.10 67.68 L339.04 67.52 M342.70 66.93 L343.72 66.76 L344.84 66.58 L345.96 66.40 L347.08 66.22 L348.21 66.04 L349.33 65.86 L350.14 65.73 M353.80 65.15 L353.82 65.14 L354.94 64.97 L356.06 64.79 L357.19 64.61 L358.31 64.44 L359.43 64.26 L360.55 64.09 L361.24 63.98 M364.90 63.41 L365.04 63.39 L366.17 63.22 L367.29 63.05 L368.41 62.88 L369.53 62.70 L370.66 62.53 L371.33 62.43 M374.50 61.95 L375.15 61.86 L376.27 61.69 L377.39 61.52 L378.52 61.36 L379.64 61.19 L380.76 61.02 L381.88 60.86 L381.94 60.85 M385.60 60.31 L386.37 60.20 L387.50 60.04 L388.62 59.88 L389.74 59.72 L390.86 59.56 L391.99 59.40 L392.57 59.31 M396.00 58.83 L396.48 58.76 L397.60 58.60 L398.72 58.44 L399.84 58.29 L400.97 58.13 L402.09 57.98 L403.17 57.83 M406.70 57.34 L407.70 57.21 L408.83 57.06 L409.95 56.90 L411.07 56.75 L412.19 56.60 L413.32 56.45 L414.14 56.34 M417.80 55.86 L417.81 55.86 L418.93 55.71 L420.05 55.57 L421.17 55.42 L422.30 55.28 L423.42 55.13 L424.54 54.99 L424.84 54.95 M428.30 54.51 L429.03 54.42 L430.15 54.28 L431.28 54.14 L432.40 54.00" stroke="#0000ff" stroke-width="2.3"/>
<path d="M152.30 104.40 L153.19 104.19 L154.08 103.98 L154.98 103.78 L155.87 103.57 L156.76 103.36 L157.65 103.16 L158.55 102.95 L159.07 102.83 M162.40 102.06 L163.01 101.92 L163.90 101.72 L164.79 101.52 L165.69 101.31 L166.58 101.11 L167.47 100.91 L168.36 100.71 L169.17 100.52 M172.50 99.77 L172.83 99.70 L173.72 99.50 L174.61 99.30 L175.50 99.10 L176.40 98.90 L177.29 98.70 L178.18 98.50 L179.07 98.30 L179.27 98.26 M182.60 97.52 L182.64 97.51 L183.54 97.31 L184.43 97.11 L185.32 96.92 L186.21 96.72 L187.11 96.52 L188.00 96.33 L188.89 96.13 L189.78 95.94 L189.84 95.93 M193.40 95.15 L194.25 94.97 L195.14 94.77 L196.03 94.58 L196.92 94.39 L197.82 94.20 L198.71 94.00 L199.60 93.81 L200.37 93.65 M203.80 92.91 L204.06 92.86 L204.96 92.67 L205.85 92.48 L206.74 92.29 L207.63 92.10 L208.53 91.91 L209.42 91.72 L210.31 91.53 L210.77 91.43 M214.20 90.71 L214.77 90.59 L215.67 90.41 L216.56 90.22 L217.45 90.03 L218.34 89.85 L219.24 89.66 L220.13 89.48 L221.02 89.29 L221.10 89.27 M224.50 88.57 L224.59 88.55 L225.48 88.37 L226.37 88.19 L227.27 88.00 L228.16 87.82 L229.05 87.64 L229.94 87.46 L230.84 87.27 L231.47 87.14 M234.90 86.45 L235.30 86.37 L236.19 86.19 L237.08 86.00 L237.98 85.82 L238.87 85.64 L239.76 85.47 L240.65 85.29 L241.55 85.11 L241.87 85.04 M245.30 84.36 L246.01 84.21 L246.90 84.04 L247.79 83.86 L248.69 83.68 L249.58 83.51 L250.47 83.33 L251.36 83.15 L252.26 82.98 L252.27 82.97 M255.70 82.30 L255.83 82.27 L256.72 82.10 L257.61 81.92 L258.50 81.75 L259.40 81.58 L260.29 81.40 L261.18 81.23 L262.07 81.05 L262.60 80.95 M266.00 80.29 L266.54 80.19 L267.43 80.02 L268.32 79.85 L269.21 79.67 L270.11 79.50 L271.00 79.33 L271.89 79.16 L272.78 78.99 L273.10 78.93 M276.60 78.26 L277.25 78.14 L278.14 77.97 L279.03 77.80 L279.92 77.63 L280.82 77.46 L281.71 77.29 L282.60 77.13 L283.49 76.96 L283.70 76.92 M287.20 76.26 L287.96 76.12 L288.85 75.95 L289.74 75.79 L290.63 75.62 L291.53 75.45 L292.42 75.29 L293.31 75.12 L293.63 75.06 M296.80 74.48 L296.88 74.46 L297.77 74.30 L298.66 74.13 L299.56 73.97 L300.45 73.80 L301.34 73.64 L302.23 73.48 L303.13 73.31 L304.02 73.15 L304.24 73.11 M307.90 72.44 L308.48 72.33 L309.37 72.17 L310.27 72.01 L311.16 71.85 L312.05 71.69 L312.94 71.52 L313.84 71.36 L314.73 71.20 L315.34 71.09 M319.00 70.43 L319.19 70.40 L320.08 70.24 L320.98 70.08 L321.87 69.92 L322.76 69.76 L323.65 69.60 L324.55 69.44 L325.44 69.28 L326.33 69.12 L326.44 69.11 M330.10 68.46 L330.79 68.33 L331.69 68.17 L332.58 68.02 L333.47 67.86 L334.36 67.70 L335.26 67.55 L336.15 67.39 L337.04 67.23 L337.54 67.14 M341.20 66.50 L341.50 66.45 L342.40 66.29 L343.29 66.14 L344.18 65.98 L345.07 65.83 L345.97 65.67 L346.86 65.52 L347.75 65.36 L348.64 65.21 M352.30 64.58 L353.11 64.44 L354.00 64.28 L354.89 64.13 L355.78 63.98 L356.68 63.82 L357.57 63.67 L358.46 63.52 L359.35 63.37 L359.74 63.30 M363.40 62.67 L363.82 62.60 L364.71 62.45 L365.60 62.30" stroke="#800080" stroke-width="2.3"/>
<path d="M139.90 108.80 L140.53 108.66 L141.16 108.52 L141.79 108.38 L142.42 108.24 L143.04 108.10 L143.67 107.96 L144.30 107.82 L144.93 107.68 L145.56 107.54 L146.19 107.40 L146.67 107.29 M150.00 106.54 L150.59 106.41 L151.22 106.27 L151.85 106.13 L152.48 105.98 L153.11 105.84 L153.74 105.70 L154.36 105.56 L154.99 105.41 L155.62 105.27 L156.25 105.13 L156.77 105.01 M160.10 104.25 L160.65 104.13 L161.28 103.98 L161.91 103.84 L162.54 103.70 L163.17 103.55 L163.80 103.41 L164.43 103.26 L165.05 103.12 L165.68 102.98 L166.31 102.83 L166.87 102.70 M170.20 101.94 L170.71 101.82 L171.34 101.67 L171.97 101.53 L172.60 101.38 L173.23 101.24 L173.86 101.09 L174.49 100.95 L175.12 100.80 L175.75 100.66 L176.37 100.51 L176.97 100.37 M180.30 99.60 L180.78 99.49 L181.41 99.34 L182.03 99.20 L182.66 99.05 L183.29 98.90 L183.92 98.76 L184.55 98.61 L185.18 98.46 L185.81 98.32 L186.44 98.17 L187.07 98.02 L187.54 97.91 M191.10 97.08 L191.47 96.99 L192.10 96.84 L192.73 96.70 L193.35 96.55 L193.98 96.40 L194.61 96.25 L195.24 96.11 L195.87 95.96 L196.50 95.81 L197.13 95.66 L197.76 95.52 L198.07 95.44 M201.50 94.64 L201.53 94.63 L202.16 94.48 L202.79 94.33 L203.42 94.18 L204.04 94.04 L204.67 93.89 L205.30 93.74 L205.93 93.59 L206.56 93.44 L207.19 93.30 L207.82 93.15 L208.45 93.00 L208.47 92.99 M211.90 92.18 L212.22 92.11 L212.85 91.96 L213.48 91.81 L214.11 91.66 L214.74 91.51 L215.36 91.37 L215.99 91.22 L216.62 91.07 L217.25 90.92 L217.88 90.77 L218.51 90.62 L218.80 90.55 M222.20 89.75 L222.28 89.73 L222.91 89.58 L223.54 89.43 L224.17 89.29 L224.80 89.14 L225.43 88.99 L226.06 88.84 L226.68 88.69 L227.31 88.54 L227.94 88.39 L228.57 88.25 L229.17 88.10 M232.60 87.29 L232.97 87.21 L233.60 87.06 L234.23 86.91 L234.86 86.76 L235.49 86.61 L236.12 86.46 L236.75 86.31 L237.37 86.17 L238.00 86.02 L238.63 85.87 L239.26 85.72 L239.57 85.65 M243.00 84.84 L243.03 84.83 L243.66 84.68 L244.29 84.54 L244.92 84.39 L245.55 84.24 L246.18 84.09 L246.81 83.95 L247.44 83.80 L248.07 83.65 L248.69 83.50 L249.32 83.35 L249.95 83.21 L249.97 83.20 M253.40 82.40 L253.73 82.32 L254.35 82.17 L254.98 82.03 L255.61 81.88 L256.24 81.73 L256.87 81.59 L257.50 81.44 L258.13 81.29 L258.76 81.14 L259.39 81.00 L260.01 80.85 L260.30 80.78 M263.70 79.99 L263.79 79.97 L264.42 79.83 L265.05 79.68 L265.67 79.53 L266.30 79.39 L266.93 79.24 L267.56 79.10 L268.19 78.95 L268.82 78.80 L269.45 78.66 L270.08 78.51 L270.71 78.37 L270.80 78.34 M274.30 77.54 L274.48 77.50 L275.11 77.35 L275.74 77.21 L276.36 77.06 L276.99 76.92 L277.62 76.77 L278.25 76.63 L278.88 76.48 L279.51 76.34 L280.14 76.19 L280.77 76.05 L281.40 75.91 L281.40 75.90 M284.90 75.10 L285.17 75.04 L285.80 74.90 L286.43 74.76 L287.06 74.61 L287.68 74.47 L288.31 74.33 L288.94 74.19 L289.57 74.04 L290.20 73.90" stroke="#ff8000" stroke-width="2.3"/>
<path d="M113.70 119.30 L120.47 117.23 M123.80 116.22 L130.57 114.15 M133.90 113.13 L140.67 111.07 M144.00 110.05 L150.77 107.99 M154.10 106.97 L160.87 104.90 M164.20 103.89 L170.97 101.82 M174.30 100.80 L181.07 98.74 M184.40 97.72 L191.64 95.51" stroke="#996633" stroke-width="2.3"/>
<path d="M86.80 133.70 L93.57 130.55 M96.90 129.00 L103.67 125.84 M107.00 124.29 L113.77 121.14" stroke="#ff00ff" stroke-width="2.3"/>
<path d="M75.55 141.70 L82.30 136.40" stroke="#00ff00" stroke-width="2.3"/>
<circle cx="524.20" cy="45.60" r="3.2" fill="#000000" stroke="none"/>
<circle cx="494.80" cy="48.15" r="3.2" fill="#ff0000" stroke="none"/>
<circle cx="432.40" cy="54.00" r="3.2" fill="#0000ff" stroke="none"/>
<circle cx="365.60" cy="62.30" r="3.2" fill="#800080" stroke="none"/>
<circle cx="290.20" cy="73.90" r="3.2" fill="#ff8000" stroke="none"/>
<circle cx="193.80" cy="94.85" r="3.2" fill="#996633" stroke="none"/>
<circle cx="116.00" cy="120.10" r="3.2" fill="#ff00ff" stroke="none"/>
<circle cx="91.60" cy="131.60" r="3.2" fill="#808080" stroke="none"/>
<circle cx="82.30" cy="136.40" r="3.2" fill="#00ff00" stroke="none"/>
</g>
<g opacity="0.999">
<text class="tk" transform="translate(63.40,304.70) rotate(0)" text-anchor="end">0.0</text>
<text class="tk" transform="translate(63.40,247.16) rotate(0)" text-anchor="end">0.2</text>
<text class="tk" transform="translate(63.40,189.62) rotate(0)" text-anchor="end">0.4</text>
<text class="tk" transform="translate(63.40,132.08) rotate(0)" text-anchor="end">0.6</text>
<text class="tk" transform="translate(63.40,74.54) rotate(0)" text-anchor="end">0.8</text>
<text class="tk" transform="translate(63.40,17.00) rotate(0)" text-anchor="end">1.0</text>
<text class="tk" transform="translate(75.40,319.90) rotate(0)" text-anchor="middle">1</text>
<text class="tk" transform="translate(165.20,319.90) rotate(0)" text-anchor="middle">2</text>
<text class="tk" transform="translate(255.00,319.90) rotate(0)" text-anchor="middle">3</text>
<text class="tk" transform="translate(344.80,319.90) rotate(0)" text-anchor="middle">4</text>
<text class="tk" transform="translate(434.60,319.90) rotate(0)" text-anchor="middle">5</text>
<text class="tk" transform="translate(524.40,319.90) rotate(0)" text-anchor="middle">6</text>
<text class="lb" transform="translate(22.8,153.5) rotate(-90)" text-anchor="middle">P</text>
<text class="lb" transform="translate(291.5,356.1) rotate(0)">r<tspan class="sub" dy="4.6">s</tspan></text>
</g>
</svg>
</body></html>
